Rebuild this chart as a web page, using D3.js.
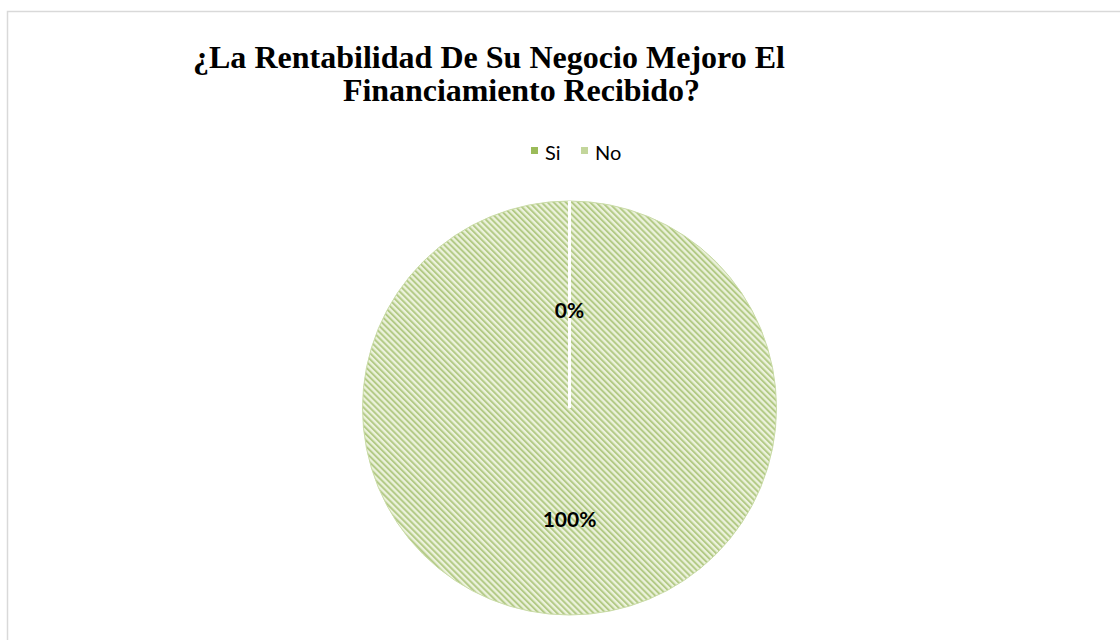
<!DOCTYPE html>
<html>
<head>
<meta charset="utf-8">
<script src="https://cdn.jsdelivr.net/npm/d3@7"></script>
<style>
  html, body { margin: 0; padding: 0; background: #fff; }
  svg { display: block; }
</style>
</head>
<body>
<svg id="chart" width="1120" height="640"></svg>
<script>
const titleLines = ["¿La Rentabilidad De Su Negocio Mejoro El", "Financiamiento Recibido?"];
const categories = ["Si", "No"];
const values = [0, 100];
const labels = ["0%", "100%"];
const legendColors = ["#9bbb59", "#c3d69b"];

const svg = d3.select("#chart");

// outer frame (extends past the picture on right and bottom)
svg.append("rect")
  .attr("x", 7.5).attr("y", 11.5)
  .attr("width", 1130).attr("height", 650)
  .attr("fill", "none").attr("stroke", "#d9d9d9").attr("stroke-width", 1.5);

// hatch pattern
const defs = svg.append("defs");
const pat = defs.append("pattern")
  .attr("id", "hatch")
  .attr("patternUnits", "userSpaceOnUse")
  .attr("width", 4.3).attr("height", 4.3)
  .attr("patternTransform", "rotate(-45)");
pat.append("rect").attr("width", 4.3).attr("height", 4.3).attr("fill", "#ecf2dc");
pat.append("rect").attr("width", 2.0).attr("height", 4.3).attr("fill", "#b3ca86");

// title
const title = svg.append("g").attr("font-family", "'Liberation Serif', 'Times New Roman', serif")
  .attr("font-weight", "bold").attr("font-size", 32).attr("fill", "#000");
title.append("text").attr("x", 193).attr("y", 68).attr("textLength", 592).text(titleLines[0]);
title.append("text").attr("x", 343).attr("y", 101).attr("textLength", 357).text(titleLines[1]);

// legend
const legend = svg.append("g").attr("font-family", "Lato, 'Open Sans', sans-serif").attr("font-size", 20);
const legendX = [531, 581];
categories.forEach((c, i) => {
  const g = legend.append("g").attr("transform", `translate(${legendX[i]},0)`);
  g.append("rect").attr("x", 0).attr("y", 147).attr("width", 7).attr("height", 7).attr("fill", legendColors[i]);
  g.append("text").attr("x", 14).attr("y", 160).attr("fill", "#000").text(c);
});

// pie
const cx = 569.5, cy = 408, r = 207;
const pie = d3.pie().sort(null).value(d => d)(values);
const arc = d3.arc().innerRadius(0).outerRadius(r);
const g = svg.append("g").attr("transform", `translate(${cx},${cy})`);

g.selectAll("path.slice").data(pie).enter().append("path")
  .attr("class", "slice")
  .attr("d", arc)
  .attr("fill", "url(#hatch)")
  .attr("stroke", d => d.value > 0 ? "#c9dba6" : "none")
  .attr("stroke-width", 1);

// white separators at slice boundaries
g.selectAll("line.sep").data(pie).enter().append("line")
  .attr("class", "sep")
  .attr("x1", 0).attr("y1", 0)
  .attr("x2", d => r * Math.sin(d.startAngle))
  .attr("y2", d => -r * Math.cos(d.startAngle))
  .attr("stroke", "#fff").attr("stroke-width", 3);

// labels
g.selectAll("text.lbl").data(pie).enter().append("text")
  .attr("class", "lbl")
  .attr("x", d => {
    const ang = (d.startAngle + d.endAngle) / 2;
    return d.value > 0 ? r * 0.54 * Math.sin(ang) : 0;
  })
  .attr("y", d => {
    const ang = (d.startAngle + d.endAngle) / 2;
    return d.value > 0 ? -r * 0.54 * Math.cos(ang) + 7 : -r * 0.47 + 7;
  })
  .attr("text-anchor", "middle")
  .attr("font-family", "Lato, 'Open Sans', sans-serif")
  .attr("font-weight", "bold").attr("font-size", 21)
  .attr("fill", "#000")
  .text((d, i) => labels[i]);
</script>
</body>
</html>
